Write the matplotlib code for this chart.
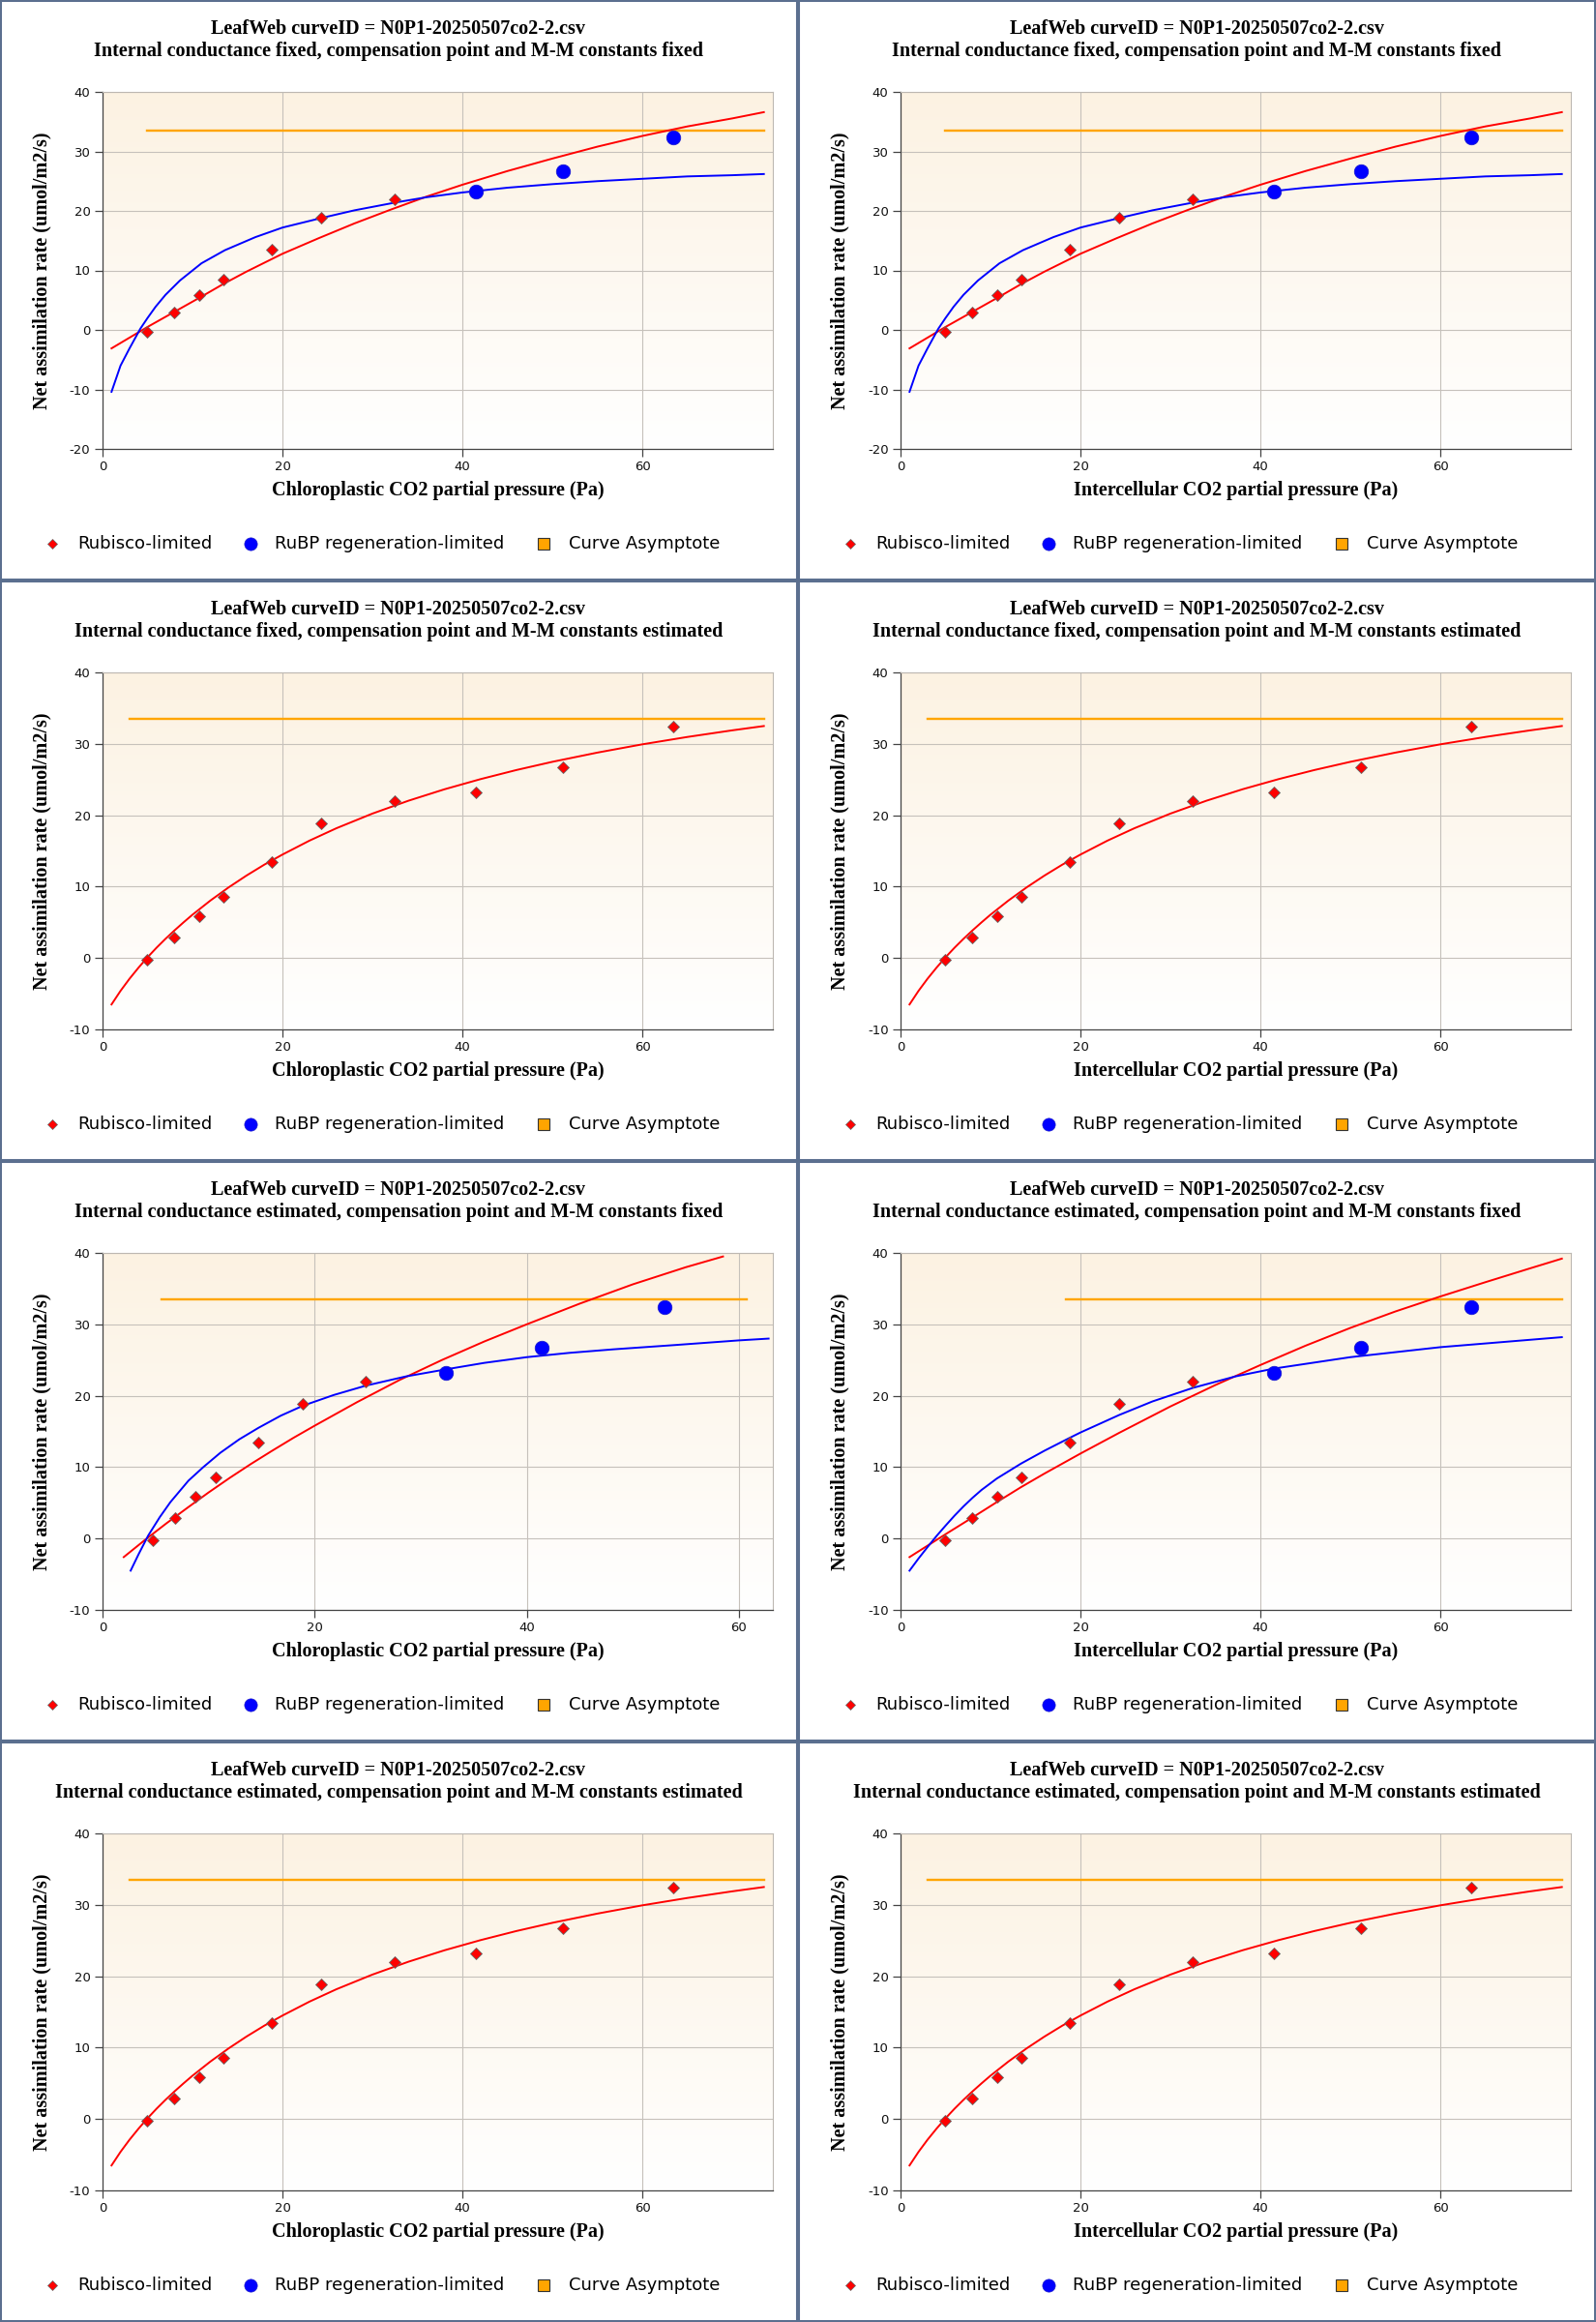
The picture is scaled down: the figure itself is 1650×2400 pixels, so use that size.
import matplotlib.pyplot as plt
import numpy as np
from matplotlib.lines import Line2D
from matplotlib.patches import Rectangle
from matplotlib.colors import LinearSegmentedColormap

plt.rcParams['axes.unicode_minus'] = False

# observed points (Pa, umol/m2/s)
obs_c = [4.9, 8.0, 10.8, 13.4, 18.8, 24.3, 32.5, 41.5, 51.2, 63.4]
obs_c_gm_est = [4.7, 6.8, 8.8, 10.7, 14.7, 18.9, 24.8, 32.4, 41.4, 53.0]
obs_a = [-0.26, 2.86, 5.84, 8.5, 13.5, 18.8, 22.0, 23.2, 26.7, 32.4]
n_rubisco = 7  # first points Rubisco-limited when two limitations are fitted

# fitted curves: gm fixed, constants fixed
ff_rub_x = [1, 3, 5, 7, 9, 11, 13.4, 16, 18.8, 20, 24, 28, 32, 36, 40, 45, 50, 55, 60, 65, 70, 73.5]
ff_rub_y = [-3.1, -1.3, 0.5, 2.2, 3.9, 5.6, 7.7, 9.8, 11.9, 12.8, 15.4, 17.9, 20.2, 22.4, 24.4, 26.7, 28.8, 30.8, 32.6, 34.2, 35.55, 36.6]
ff_rubp_x = [1, 2, 3, 4.2, 5, 5.9, 7, 8.6, 11, 13.6, 17, 20, 24.3, 28, 32.5, 36, 40, 45, 50, 55, 60, 65, 70, 73.5]
ff_rubp_y = [-10.4, -6.0, -3.1, 0.2, 2.0, 3.9, 5.9, 8.3, 11.2, 13.4, 15.6, 17.2, 18.8, 20.1, 21.4, 22.3, 23.1, 23.9, 24.5, 25.0, 25.4, 25.8, 26.0, 26.2]

# gm fixed, constants estimated
fe_rub_x = [1, 2, 3, 4, 5, 6, 7, 8, 9, 10, 12, 14, 16, 18, 20, 23, 26, 30, 34, 38, 42, 46, 50, 55, 60, 65, 70, 73.5]
fe_rub_y = [-6.5, -4.6, -2.9, -1.35, 0.1, 1.44, 2.69, 3.87, 4.99, 6.07, 8.06, 9.88, 11.55, 13.09, 14.49, 16.44,
            18.18, 20.23, 22.03, 23.63, 25.05, 26.33, 27.48, 28.77, 29.93, 30.96, 31.89, 32.49]

# gm estimated, constants fixed (chloroplastic)
efc_rub_x = [2, 4, 6, 8, 10, 12, 14, 16, 18, 20, 24, 28, 32, 36, 40, 45, 50, 55, 58.5]
efc_rub_y = [-2.6, -0.2, 2.1, 4.3, 6.45, 8.5, 10.45, 12.3, 14.1, 15.8, 19.1, 22.2, 25.0, 27.6, 30.0, 32.9, 35.6, 38.0, 39.5]
efc_rubp_x = [2.65, 3.4, 4.3, 5.4, 6.4, 8.1, 9.5, 11.1, 12.9, 14.7, 16.8, 18.9, 21.8, 24.8, 28.6, 32.4, 36, 40, 44, 48.2, 54, 60, 62.8]
efc_rubp_y = [-4.5, -2.2, 0.4, 3.0, 5.1, 8.1, 10.0, 12.0, 13.9, 15.5, 17.2, 18.6, 20.1, 21.4, 22.7, 23.7, 24.6, 25.4, 26.0, 26.5, 27.1, 27.75, 28.0]

# gm estimated, constants fixed (intercellular)
efi_rub_x = [1, 3, 5, 8, 10.7, 13.4, 16, 20, 24.3, 30, 35, 40, 45, 50, 55, 60, 65, 70, 73.5]
efi_rub_y = [-2.6, -1.0, 0.6, 2.95, 5.1, 7.2, 9.1, 11.9, 14.8, 18.5, 21.5, 24.3, 27.0, 29.5, 31.8, 33.9, 35.9, 37.85, 39.2]
efi_rubp_x = [1, 2, 3, 4, 5, 6, 7, 8, 9, 10.7, 13.4, 16, 18.8, 20, 24.3, 28, 32.5, 37.2, 41.5, 50, 60, 73.5]
efi_rubp_y = [-4.5, -2.8, -1.2, 0.35, 1.8, 3.2, 4.5, 5.7, 6.8, 8.4, 10.5, 12.3, 14.1, 14.85, 17.3, 19.2, 21.1, 22.7, 23.8, 25.4, 26.8, 28.2]

asym_y = 33.55

title_top = "LeafWeb curveID = N0P1-20250507co2-2.csv"
sub_titles = [
    "Internal conductance fixed, compensation point and M-M constants fixed",
    "Internal conductance fixed, compensation point and M-M constants estimated",
    "Internal conductance estimated, compensation point and M-M constants fixed",
    "Internal conductance estimated, compensation point and M-M constants estimated",
]
x_labels = ["Chloroplastic CO2 partial pressure (Pa)", "Intercellular CO2 partial pressure (Pa)"]
y_label = "Net assimilation rate (umol/m2/s)"
legend_labels = ["Rubisco-limited", "RuBP regeneration-limited", "Curve Asymptote"]

# per panel: (row, col, point x, rubisco curve, rubp curve, asymptote span, xmax, ymin)
panels = [
    (0, 0, obs_c, (ff_rub_x, ff_rub_y), (ff_rubp_x, ff_rubp_y), (4.9, 73.5), 74.5, -20),
    (0, 1, obs_c, (ff_rub_x, ff_rub_y), (ff_rubp_x, ff_rubp_y), (4.9, 73.5), 74.5, -20),
    (1, 0, obs_c, (fe_rub_x, fe_rub_y), None, (3.05, 73.5), 74.5, -10),
    (1, 1, obs_c, (fe_rub_x, fe_rub_y), None, (3.05, 73.5), 74.5, -10),
    (2, 0, obs_c_gm_est, (efc_rub_x, efc_rub_y), (efc_rubp_x, efc_rubp_y), (5.6, 60.7), 63.2, -10),
    (2, 1, obs_c, (efi_rub_x, efi_rub_y), (efi_rubp_x, efi_rubp_y), (18.4, 73.5), 74.5, -10),
    (3, 0, obs_c, (fe_rub_x, fe_rub_y), None, (3.05, 73.5), 74.5, -10),
    (3, 1, obs_c, (fe_rub_x, fe_rub_y), None, (3.05, 73.5), 74.5, -10),
]

W, H = 1650, 2400
PW, PH = 825, 600
fig = plt.figure(figsize=(16.5, 24), dpi=100)

grad = LinearSegmentedColormap.from_list('bg', ['#fcf2e2', '#ffffff'])
serif = dict(family='Liberation Serif', weight='bold')


def fx(px):
    return px / W


def fy(py):
    return 1 - py / H


for row, col, px_obs, rub, rubp, asym, xmax, ymin in panels:
    x0, y0 = col * PW, row * PH
    ax = fig.add_axes([fx(x0 + 106), fy(y0 + 464), 693 / W, 369 / H])
    ax.imshow(np.linspace(0, 1, 256).reshape(-1, 1), cmap=grad, aspect='auto',
              extent=(0, 1, 0, 1), transform=ax.transAxes, zorder=-1)

    ax.plot(rub[0], rub[1], color='#ff0000', lw=1.4, zorder=3)
    if rubp is not None:
        ax.plot(rubp[0], rubp[1], color='#0000ff', lw=1.4, zorder=3)
    ax.plot(list(asym), [asym_y, asym_y], color='#ffa500', lw=1.7, zorder=2)

    if rubp is not None:
        rx, ry = px_obs[:n_rubisco], obs_a[:n_rubisco]
        bx, by = px_obs[n_rubisco:], obs_a[n_rubisco:]
    else:
        rx, ry = px_obs, obs_a
        bx, by = [], []
    ax.plot(rx, ry, ls='none', marker='D', ms=6, mfc='#ff0000', mec='#666666', mew=0.6, zorder=4)
    ax.plot(bx, by, ls='none', marker='o', ms=10.5, mfc='#0000ff', mec='#1a1acc', mew=0.5, zorder=4)

    ax.set_xlim(0, xmax)
    ax.set_ylim(ymin, 40)
    ax.set_xticks([0, 20, 40, 60])
    ax.set_yticks(np.arange(ymin, 41, 10))
    ax.set_axisbelow(True)
    ax.grid(color='#c6c1bb', lw=0.8)
    for s in ['left', 'bottom']:
        ax.spines[s].set_color('#444444')
        ax.spines[s].set_linewidth(0.9)
    for s in ['top', 'right']:
        ax.spines[s].set_color('#bdb8b2')
        ax.spines[s].set_linewidth(0.8)
    ax.tick_params(direction='out', length=6, width=0.9, color='#444444',
                   labelsize=9.5, pad=3, labelcolor='#111111')

    fig.text(fx(x0 + 412), fy(y0 + 30), title_top, ha='center', va='center', size=14.5, **serif)
    fig.text(fx(x0 + 412), fy(y0 + 53), sub_titles[row], ha='center', va='center', size=14.5, **serif)
    fig.text(fx(x0 + 453), fy(y0 + 507), x_labels[col], ha='center', va='center', size=14.5, **serif)
    fig.text(fx(x0 + 43), fy(y0 + 280), y_label, ha='center', va='center', rotation=90, size=14.5, **serif)

    ly = fy(y0 + 562)
    fig.add_artist(Line2D([fx(x0 + 54)], [ly], marker='D', ms=5.2, mfc='#ff0000', mec='#666666',
                          mew=0.5, ls='none', transform=fig.transFigure))
    fig.add_artist(Line2D([fx(x0 + 259)], [ly], marker='o', ms=9.5, mfc='#0000ff', mec='#1a1acc',
                          mew=0.5, ls='none', transform=fig.transFigure))
    fig.add_artist(Line2D([fx(x0 + 562)], [ly], marker='s', ms=9, mfc='#ffa500', mec='#333333',
                          mew=0.8, ls='none', transform=fig.transFigure))
    for tx, lab in zip([80, 284, 588], legend_labels):
        fig.text(fx(x0 + tx), ly, lab, ha='left', va='center', size=13, color='#000000')

    fig.add_artist(Rectangle((fx(x0), fy(y0 + PH)), PW / W, PH / H, fill=False,
                             edgecolor='#5b6f8f', lw=2.9, transform=fig.transFigure, zorder=10))

fig.savefig('out.png', dpi=100)
